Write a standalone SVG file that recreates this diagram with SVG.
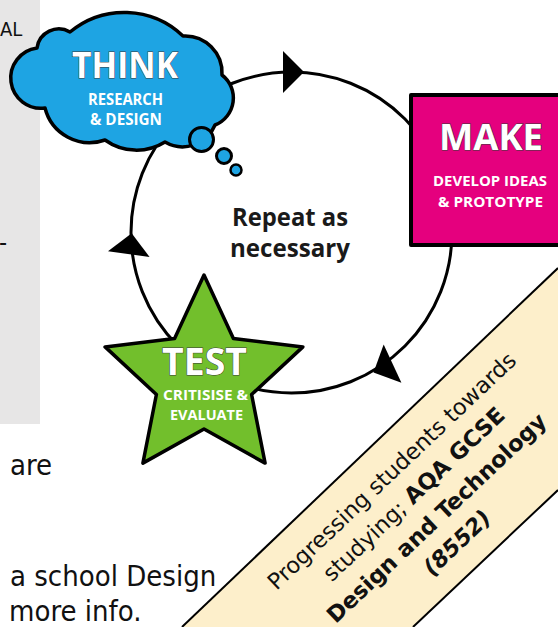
<svg xmlns="http://www.w3.org/2000/svg" width="558" height="627" viewBox="0 0 558 627">
<style>
.title{font-family:"Open Sans","Noto Sans",sans-serif;font-weight:700;fill:#fff;stroke:#3a3a3a;stroke-width:1;paint-order:stroke;text-anchor:middle}
.sub{font-family:"Open Sans","Noto Sans",sans-serif;font-weight:700;fill:#fff;text-anchor:middle}
.center{font-family:"Open Sans","Noto Sans",sans-serif;font-weight:700;fill:#1a1a1a;text-anchor:middle;font-size:24.5px}
.body{font-family:"DejaVu Sans Condensed","DejaVu Sans",sans-serif;font-stretch:condensed;fill:#111;font-size:29px}
.ban{font-family:"DejaVu Sans",sans-serif;fill:#111;font-size:22.5px;text-anchor:middle}
.node{stroke:#000;stroke-linejoin:round}
.arrow{fill:#000}
</style>
<defs>
<path id="ah" d="M0,0 L-21,-21 L-21,21 Z"/>
</defs>
<rect width="558" height="627" fill="#fff"/>
<g id="side-panel">
<rect x="0" y="0" width="40" height="424" fill="#e7e6e6"/>
<text class="body" x="0" y="36" style="font-size:20px">AL</text>
<text class="body" x="-1" y="251" style="font-size:25px">-</text>
</g>
<g id="connectors">
<circle cx="291.5" cy="232.5" r="160.5" fill="none" stroke="#000" stroke-width="3"/>
<use href="#ah" class="arrow" transform="translate(304,72)"/>
<use href="#ah" class="arrow" transform="translate(131.7,233.3) rotate(-82)"/>
<use href="#ah" class="arrow" transform="translate(373.5,372.5) rotate(155)"/>
</g>
<g id="think">
<path class="node" fill="#1ea4e3" stroke-width="3.5" d="M45,108 A30,30 0 0 1 37,48 A22,22 0 0 1 70,32 A85,85 0 0 1 183,36 A37,37 0 0 1 222,75 A29,29 0 0 1 215,125 A35,35 0 0 1 165,142 A54,54 0 0 1 105,140 A46,46 0 0 1 45,108 Z"/>
<circle class="node" cx="201.5" cy="139.5" r="12" fill="#1ea4e3" stroke-width="3"/>
<circle class="node" cx="224" cy="156" r="7.5" fill="#1ea4e3" stroke-width="3"/>
<circle class="node" cx="236" cy="170" r="5.5" fill="#1ea4e3" stroke-width="2.5"/>
<text class="title" x="125" y="78" font-size="36" textLength="106" lengthAdjust="spacingAndGlyphs">THINK</text>
<text class="sub" x="125.5" y="105" font-size="15.5" textLength="75" lengthAdjust="spacingAndGlyphs">RESEARCH</text>
<text class="sub" x="126" y="125" font-size="15.5" textLength="72" lengthAdjust="spacingAndGlyphs">&amp; DESIGN</text>
</g>
<g id="make">
<rect class="node" x="411" y="95" width="165" height="150" fill="#e5007e" stroke-width="4"/>
<text class="title" x="491" y="150" font-size="35" textLength="104" lengthAdjust="spacingAndGlyphs">MAKE</text>
<text class="sub" x="490" y="186" font-size="14.5" textLength="114" lengthAdjust="spacingAndGlyphs">DEVELOP IDEAS</text>
<text class="sub" x="490.5" y="207" font-size="14.5" textLength="105" lengthAdjust="spacingAndGlyphs">&amp; PROTOTYPE</text>
</g>
<g id="test">
<path class="node" fill="#72bf2c" stroke-width="3.5" d="M204,275 L233.4,338.6 L302.9,346.9 L251.6,394.5 L265.1,463.1 L204,429 L142.9,463.1 L156.4,394.5 L105.1,346.9 L174.6,338.6 Z"/>
<text class="title" x="204.5" y="375" font-size="38" textLength="85" lengthAdjust="spacingAndGlyphs">TEST</text>
<text class="sub" x="205.5" y="400" font-size="15" textLength="85" lengthAdjust="spacingAndGlyphs">CRITISISE &amp;</text>
<text class="sub" x="206.5" y="420" font-size="15" textLength="73" lengthAdjust="spacingAndGlyphs">EVALUATE</text>
</g>
<g id="repeat-label">
<text class="center" x="290" y="226" textLength="116" lengthAdjust="spacingAndGlyphs">Repeat as</text>
<text class="center" x="290" y="257" textLength="120" lengthAdjust="spacingAndGlyphs">necessary</text>
</g>
<g id="body-text">
<text class="body" x="10" y="475">are</text>
<text class="body" x="10" y="586">a school Design</text>
<text class="body" x="9" y="621">more info.</text>
</g>
<g id="banner">
<polygon points="182,627 558,268 558,490 413,627" fill="#fdefcb"/>
<line x1="182" y1="627" x2="558" y2="268" stroke="#000" stroke-width="2"/>
<line x1="413" y1="627" x2="558" y2="490" stroke="#000" stroke-width="2"/>
<g transform="rotate(-43.5)">
<text class="ban" x="-40" y="619">Progressing students towards</text>
<text class="ban" x="-40" y="651">studying; <tspan font-weight="700">AQA GCSE</tspan></text>
<text class="ban" x="-40" y="684" font-weight="700">Design and Technology</text>
<text class="ban" x="-42" y="716" font-weight="700" font-style="italic">(8552)</text>
</g>
</g>
</svg>
